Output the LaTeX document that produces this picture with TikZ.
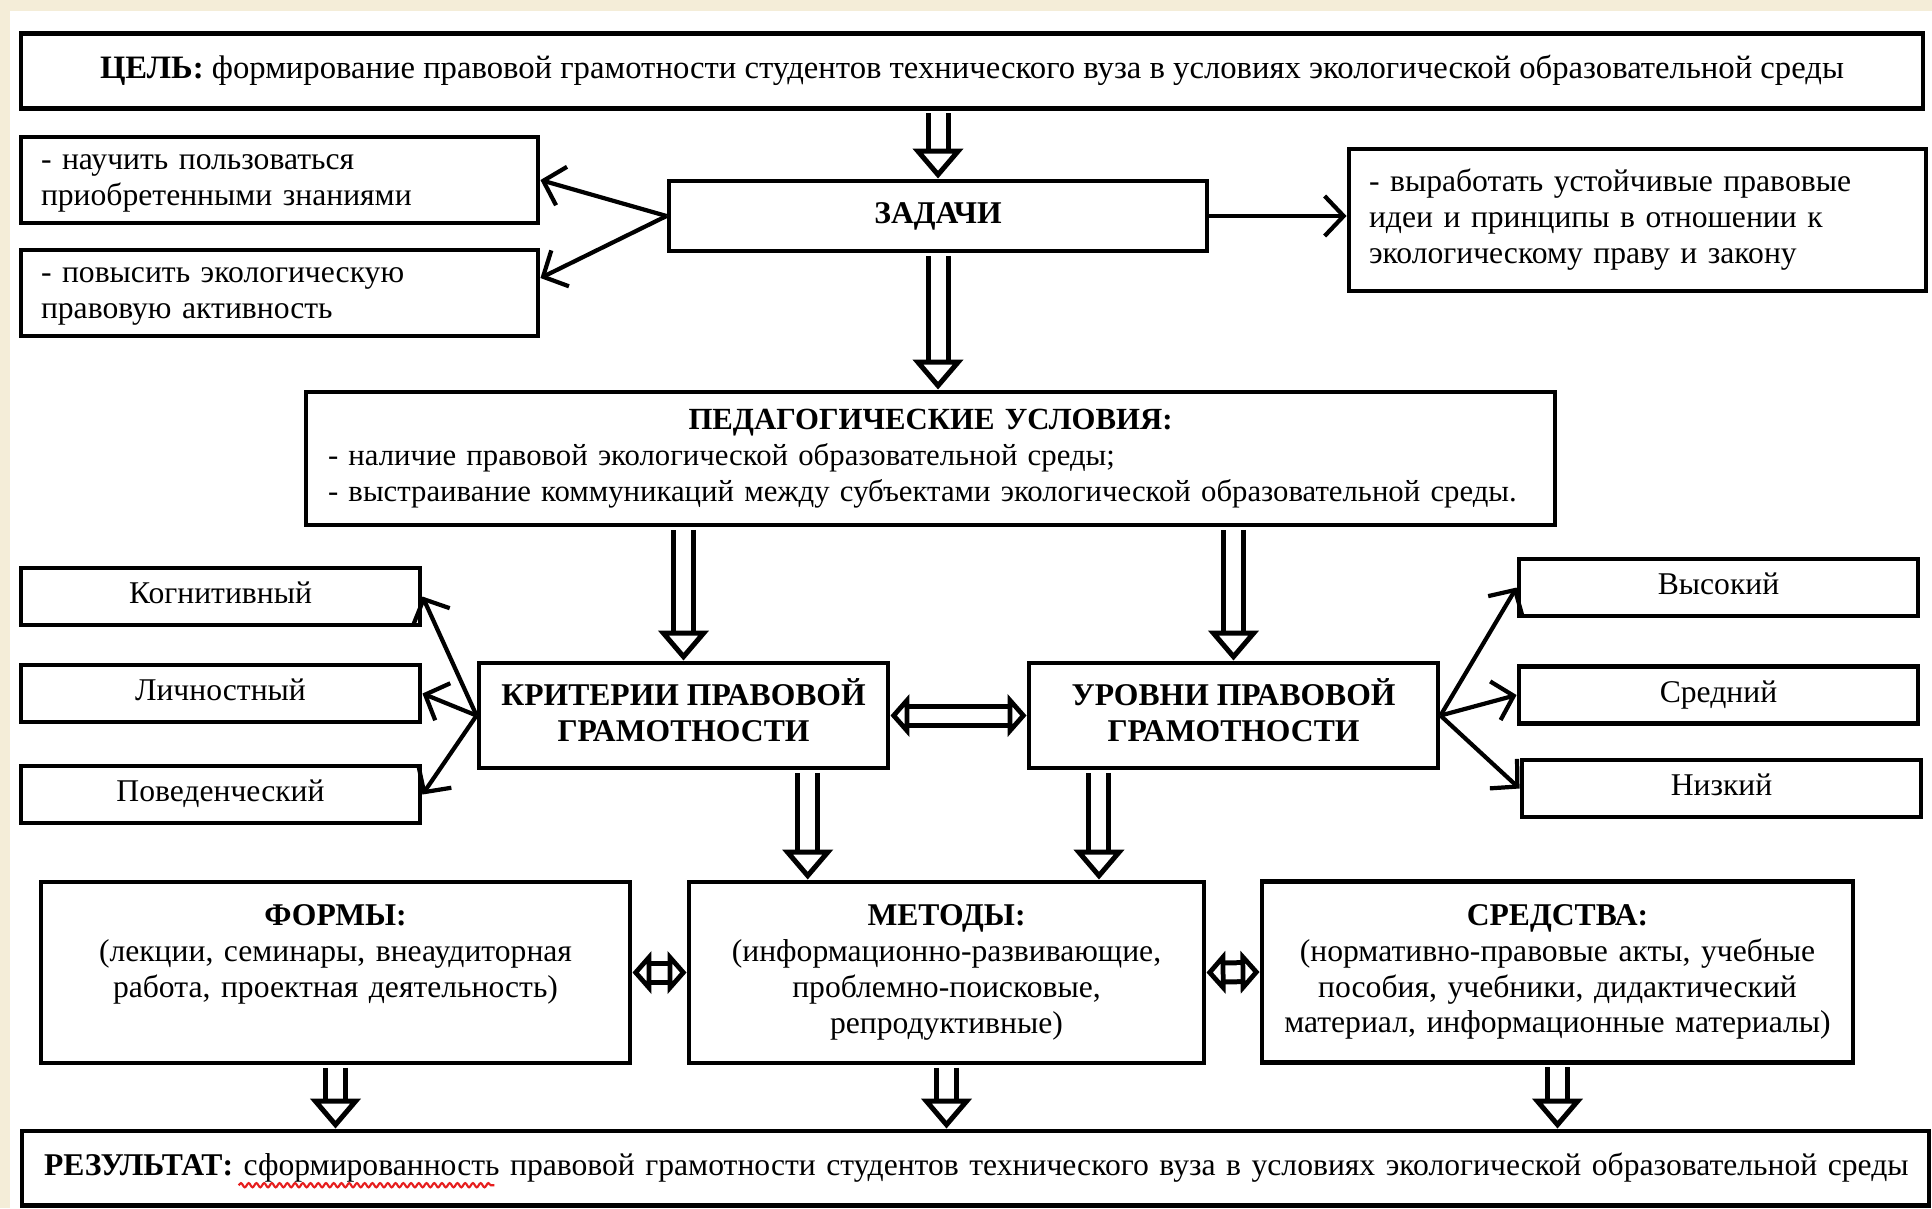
\documentclass[tikz,border=0pt]{standalone}
\usepackage{fontspec}
\setmainfont{Liberation Serif}
\usepackage{tikz}
\usetikzlibrary{arrows.meta,calc,decorations.pathmorphing}
\definecolor{PageBeige}{RGB}{244,237,216}
\definecolor{SpellRed}{RGB}{230,30,30}
\newcommand{\fsz}{\fontsize{9}{10.2}\selectfont}
\newlength{\labw}
\newlength{\wordw}
\settowidth{\labw}{\fsz\textbf{РЕЗУЛЬТАТ:} }
\settowidth{\wordw}{\fsz сформированность}

\begin{document}
\begin{tikzpicture}[
    box/.style={draw, line width=1.4pt, inner xsep=0.2cm, inner ysep=0pt, font=\fsz,
      execute at begin node=\strut, execute at end node=\strut},
    pointer/.style={line width=1.2pt, -{Straight Barb[length=1.9mm, width=4mm]}},
    hollow/.style={double, double distance=0.15cm, line width=0.05cm, shorten <=0.7pt,
      -{Triangle[open, length=0.3cm, width=0.5cm, line width=0.05cm]}},
    hollowboth/.style={double, double distance=0.14cm, line width=0.05cm,
      {Triangle[open, length=0.19cm, width=0.42cm, line width=0.05cm]}-{Triangle[open, length=0.19cm, width=0.42cm, line width=0.05cm]}},
    spellwave/.style={draw=SpellRed, line width=0.6pt, decorate, decoration={snake, amplitude=0.6pt, segment length=2.2pt}}
  ]
    \fill[PageBeige] (0,0) rectangle (19.32,-12.08);
    \fill[white] (0.1,-0.11) rectangle (19.32,-12.08);
    \useasboundingbox (0,0) rectangle (19.32,-12.08);

    \node[box, font=\fontsize{9.3}{10.5}\selectfont, minimum width=19.02cm, minimum height=0.75cm] (goal) at (9.72,-0.71)
      {\textbf{ЦЕЛЬ:} формирование правовой грамотности студентов технического вуза в условиях экологической образовательной среды};
    \node[box, text width=4.77cm, minimum height=0.86cm, align=left] (task1) at (2.795,-1.80)
      {- научить пользоваться\\приобретенными знаниями};
    \node[box, text width=4.77cm, minimum height=0.86cm, align=left] (task2) at (2.795,-2.93)
      {- повысить экологическую\\правовую активность};
    \node[box, minimum width=5.38cm, minimum height=0.70cm] (tasks) at (9.38,-2.16) {\textbf{ЗАДАЧИ}};
    \node[box, text width=5.37cm, minimum height=1.42cm, align=left] (task3) at (16.375,-2.20)
      {- выработать устойчивые правовые\\идеи и принципы в отношении к\\экологическому праву и закону};
    \node[box, font=\fontsize{8.75}{10.2}\selectfont, inner xsep=0.22cm, text width=12.05cm, minimum height=1.33cm, align=left] (cond) at (9.305,-4.585)
      {\makebox[\linewidth]{\textbf{ПЕДАГОГИЧЕСКИЕ УСЛОВИЯ:}}\\
       - наличие правовой экологической образовательной среды;\\
       - выстраивание коммуникаций между субъектами экологической образовательной среды.};

    \foreach \name/\y/\txt in {cog/-5.965/Когнитивный, pers/-6.935/Личностный, beh/-7.945/Поведенческий} {
      \node[box, minimum width=3.99cm, minimum height=0.57cm] (\name) at (2.205,\y) {\txt};
    }
    \foreach \name/\x/\y/\txt in {high/17.185/-5.875/Высокий, mid/17.185/-6.95/Средний, low/17.215/-7.885/Низкий} {
      \node[box, minimum width=3.99cm, minimum height=0.57cm] (\name) at (\x,\y) {\txt};
    }
    \node[box, minimum width=4.09cm, minimum height=1.05cm, align=center, font=\fsz\bfseries] (crit) at (6.835,-7.155)
      {КРИТЕРИИ ПРАВОВОЙ\\ГРАМОТНОСТИ};
    \node[box, minimum width=4.09cm, minimum height=1.05cm, align=center, font=\fsz\bfseries] (lev) at (12.335,-7.155)
      {УРОВНИ ПРАВОВОЙ\\ГРАМОТНОСТИ};

    \node[box, inner xsep=0.1cm, text width=5.69cm, minimum height=1.81cm, align=center] (forms) at (3.355,-9.725)
      {\textbf{ФОРМЫ:}\\(лекции, семинары, внеаудиторная\\работа, проектная деятельность)\\\mbox{}};
    \node[box, inner xsep=0.1cm, text width=4.95cm, minimum height=1.81cm, align=center] (meth) at (9.465,-9.725)
      {\textbf{МЕТОДЫ:}\\(информационно-развивающие,\\проблемно-поисковые,\\репродуктивные)};
    \node[box, inner xsep=0.1cm, text width=5.71cm, minimum height=1.81cm, align=center] (means) at (15.575,-9.72)
      {\textbf{СРЕДСТВА:}\\(нормативно-правовые акты, учебные\\пособия, учебники, дидактический\\материал, информационные материалы)};
    \node[box, inner xsep=0.22cm, text width=18.63cm, minimum height=0.74cm, align=left] (result) at (9.755,-11.68)
      {\mbox{\textbf{РЕЗУЛЬТАТ:} сформированность правовой грамотности студентов технического вуза в условиях экологической образовательной среды}};
    \coordinate (waveL) at ([xshift=0.22cm+\labw, yshift=-0.1cm]result.base west);
    \coordinate (waveR) at ([xshift=\wordw]waveL);
    \path[spellwave] (waveL) -- (waveR);

    \draw[pointer] (tasks.west) -- (task1.east);
    \draw[pointer] (tasks.west) -- ([yshift=1.5mm]task2.east);
    \draw[pointer] (tasks.east) -- (tasks.east -| task3.west);
    \foreach \name in {cog, pers, beh} {
      \draw[pointer] (crit.west) -- (\name.east);
    }
    \foreach \name in {high, mid, low} {
      \draw[pointer] (lev.east) -- (\name.west);
    }

    \draw[hollow] (goal.south -| tasks.north) -- (tasks.north);
    \draw[hollow] (tasks.south) -- (tasks.south |- cond.north);
    \draw[hollow] (cond.south -| crit.north) -- (crit.north);
    \draw[hollow] (cond.south -| lev.north) -- (lev.north);
    \draw[hollowboth] (crit.east) -- (lev.west);
    \coordinate (critout) at ($(crit.south)!0.6!(crit.south east)$);
    \coordinate (levout) at ($(lev.south)!0.65!(lev.south west)$);
    \draw[hollow] (critout) -- (critout |- meth.north);
    \draw[hollow] (levout) -- (levout |- meth.north);
    \draw[hollowboth] (forms.east) -- (meth.west);
    \draw[hollowboth] (meth.east) -- (means.west);
    \foreach \name in {forms, meth, means} {
      \draw[hollow] (\name.south) -- (\name.south |- result.north);
    }
  \end{tikzpicture}
\end{document}
